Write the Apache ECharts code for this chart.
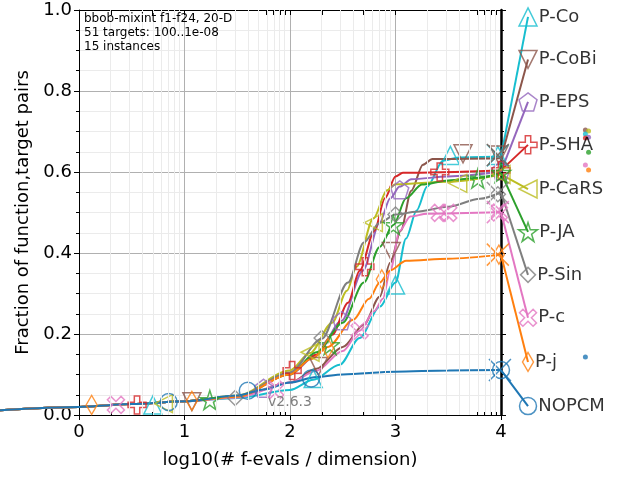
<!DOCTYPE html>
<html>
<head>
<meta charset="utf-8">
<script src="https://cdn.jsdelivr.net/npm/echarts@6/dist/echarts.min.js"></script>
<style>
  html, body { margin: 0; padding: 0; background: #fff; }
  #chart { width: 640px; height: 480px; }
</style>
</head>
<body>
<div id="chart"></div>
<script>
// ECDF curves, x = log10(#f-evals / dimension), y = fraction of (function,target) pairs
const names = ['P-Co', 'P-CoBi', 'P-EPS', 'P-SHA', 'P-CaRS', 'P-JA', 'P-Sin', 'P-c', 'P-j', 'NOPCM'];
const colors = ['#17becf', '#8c564b', '#9467bd', '#d62728', '#bcbd22', '#2ca02c', '#7f7f7f', '#e377c2', '#ff7f0e', '#1f77b4'];

const start = [[-0.75, 0.012], [0, 0.02], [0.5, 0.027], [1, 0.034]];

const curvePCo = [[1.5, 0.042], [2, 0.062], [2.22, 0.087], [2.47, 0.124], [2.66, 0.19], [2.85, 0.267], [3, 0.327], [3.1, 0.436], [3.2, 0.505], [3.3, 0.564], [3.45, 0.628], [3.6, 0.636], [4, 0.638]];
const curvePCoBi = [[1.5, 0.045], [2, 0.08], [2.25, 0.114], [2.5, 0.168], [2.7, 0.223], [2.85, 0.292], [2.95, 0.376], [3.05, 0.455], [3.15, 0.554], [3.26, 0.618], [3.35, 0.632], [4, 0.634]];
const curvePEPS = [[1.5, 0.046], [2, 0.1], [2.25, 0.148], [2.49, 0.233], [2.69, 0.356], [2.85, 0.475], [2.95, 0.535], [3.04, 0.564], [3.15, 0.582], [3.5, 0.589], [4, 0.601]];
const curvePSHA = [[1.5, 0.046], [2, 0.104], [2.25, 0.149], [2.4, 0.198], [2.55, 0.277], [2.66, 0.356], [2.8, 0.455], [2.9, 0.535], [3, 0.589], [3.07, 0.598], [4, 0.604]];
const curvePCaRS = [[1.5, 0.048], [2, 0.11], [2.19, 0.153], [2.4, 0.228], [2.54, 0.307], [2.63, 0.366], [2.79, 0.485], [2.92, 0.555], [3, 0.57], [3.5, 0.576], [4, 0.594]];
const curvePJA = [[1.5, 0.046], [2, 0.1], [2.25, 0.155], [2.5, 0.228], [2.7, 0.327], [2.85, 0.415], [2.98, 0.469], [3.1, 0.535], [3.25, 0.569], [3.5, 0.579], [3.8, 0.586], [4, 0.598]];
const curvePSin = [[1.5, 0.046], [2, 0.105], [2.3, 0.188], [2.55, 0.327], [2.7, 0.426], [2.85, 0.475], [3, 0.495], [3.2, 0.502], [3.5, 0.514], [3.8, 0.534], [4, 0.55]];
const curvePc = [[1.5, 0.043], [2, 0.08], [2.25, 0.109], [2.5, 0.158], [2.66, 0.208], [2.8, 0.257], [2.88, 0.287], [2.95, 0.357], [3.04, 0.455], [3.14, 0.49], [3.3, 0.497], [4, 0.501]];
const curvePj = [[1.5, 0.045], [2, 0.1], [2.2, 0.138], [2.36, 0.168], [2.6, 0.235], [2.75, 0.287], [2.85, 0.327], [2.95, 0.357], [3.1, 0.381], [3.5, 0.386], [4, 0.396]];
const curveNOPCM = [[1.5, 0.048], [1.75, 0.063], [2, 0.08], [2.25, 0.094], [2.5, 0.1], [3, 0.107], [3.5, 0.11], [4, 0.111]];

const curves = [curvePCo, curvePCoBi, curvePEPS, curvePSHA, curvePCaRS, curvePJA, curvePSin, curvePc, curvePj, curveNOPCM];

// marker positions along each curve
const markPCo = [[0.7, 0.025], [2.22, 0.09], [3.0, 0.321], [3.52, 0.641], [3.97, 0.641]];
const markPCoBi = [[1.07, 0.033], [2.27, 0.12], [2.96, 0.404], [3.64, 0.645], [3.98, 0.642]];
const markPEPS = [[1.75, 0.066], [2.49, 0.233], [3.04, 0.556], [4, 0.604]];
const markPSHA = [[0.55, 0.025], [2.02, 0.11], [2.71, 0.366], [3.42, 0.6], [4, 0.604]];
const markPCaRS = [[0.8, 0.028], [2.19, 0.155], [2.79, 0.475], [3.59, 0.572], [4, 0.594]];
const markPJA = [[1.24, 0.037], [2.38, 0.173], [2.98, 0.469], [3.78, 0.584], [4, 0.598]];
const markPSin = [[1.48, 0.042], [2.3, 0.19], [3.0, 0.495], [3.97, 0.545]];
const markPc = [[0.35, 0.025], [1.86, 0.062], [2.66, 0.208], [3.42, 0.499], [3.5, 0.499], [3.98, 0.5]];
const markPj = [[0.12, 0.025], [1.07, 0.035], [2.36, 0.165], [2.87, 0.335], [3.98, 0.396]];
const markNOPCM = [[0.85, 0.032], [1.6, 0.06], [2.2, 0.09], [4, 0.111]];

const marks = [markPCo, markPCoBi, markPEPS, markPSHA, markPCaRS, markPJA, markPSin, markPc, markPj, markNOPCM];

// end-of-budget crosses [x, y, series index]
const crosses = [[3.97, 0.641, 0], [3.97, 0.642, 1], [3.97, 0.548, 6], [3.97, 0.501, 7], [3.97, 0.396, 8], [3.99, 0.111, 9]];

// where the legend labels sit
const legendX = 4.256;
const legendY = [0.983, 0.878, 0.773, 0.667, 0.558, 0.452, 0.346, 0.24, 0.131, 0.022];

// small dots right of the labels [x, y, series index]
const dots = [[4.80, 0.704, 1], [4.83, 0.701, 4], [4.80, 0.694, 0], [4.83, 0.686, 2], [4.80, 0.684, 3], [4.83, 0.649, 5], [4.80, 0.617, 7], [4.83, 0.605, 8], [4.80, 0.143, 9]];

const xTicks = [0, 1, 2, 3, 4];
const minorX = [];
for (let d = 0; d < 4; d++) {
  for (let k = 2; k < 10; k++) minorX.push(d + Math.log10(k));
}

const symbols = [
  'triangle',
  'path://M0,0L10,0L5,9Z',
  'path://M5,0L10,3.8L8.1,10L1.9,10L0,3.8Z',
  'path://M3.5,0H6.5V3.5H10V6.5H6.5V10H3.5V6.5H0V3.5H3.5Z',
  'path://M0,5L9,0L9,10Z',
  'path://M5,0L6.2,3.6L10,3.6L6.9,5.9L8.1,9.5L5,7.3L1.9,9.5L3.1,5.9L0,3.6L3.8,3.6Z',
  'diamond',
  'path://M2,0L5,3L8,0L10,2L7,5L10,8L8,10L5,7L2,10L0,8L3,5L0,2Z',
  'diamond',
  'circle'
];
const sizes = [18, 18, 18, 18, 18, 19, 15, 17, [11, 19], 17];

// main plot box and a full-canvas overlay grid with the same scale,
// so curves can run outside the box like in the original
const W = 640, H = 480;
const box = { left: 79, right: 139, top: 10, bottom: 65 };
const pxX = (W - box.left - box.right) / 4;
const pxY = (H - box.top - box.bottom) / 1;
const ovX = { min: -box.left / pxX, max: (W - box.left) / pxX };
const ovY = { min: -box.bottom / pxY, max: 1 + box.top / pxY };

const font = 'DejaVu Sans';
const chart = echarts.init(document.getElementById('chart'));

const series = [];

// faint log grid lines in the main box
series.push({
  type: 'line',
  xAxisIndex: 0, yAxisIndex: 0,
  data: [],
  silent: true,
  markLine: {
    silent: true,
    symbol: 'none',
    label: { show: false },
    lineStyle: { color: '#ebebeb', width: 1, type: 'solid' },
    data: minorX.map(v => ({ xAxis: v }))
  }
});

const ov = { xAxisIndex: 3, yAxisIndex: 2 };

curves.forEach((c, i) => {
  series.push(Object.assign({
    name: names[i],
    type: 'line',
    data: start.concat(c),
    smooth: 0.3,
    smoothMonotone: 'x',
    symbol: 'none',
    z: 3,
    lineStyle: { color: colors[i], width: 2 }
  }, ov));
  const last = c[c.length - 1];
  series.push(Object.assign({
    type: 'line',
    data: [last, [legendX, legendY[i]]],
    symbol: 'none',
    z: 3,
    lineStyle: { color: colors[i], width: 2 }
  }, ov));
  const pts = marks[i].map(p => p.slice());
  pts.push({
    value: [legendX, legendY[i]],
    label: {
      show: true,
      position: 'right',
      distance: 1,
      formatter: names[i],
      color: '#000',
      fontFamily: font,
      fontSize: 18
    }
  });
  series.push(Object.assign({
    type: 'scatter',
    data: pts,
    symbol: symbols[i],
    symbolSize: sizes[i],
    z: 4,
    itemStyle: { color: 'rgba(255,255,255,0)', borderColor: colors[i], borderWidth: 1.5 }
  }, ov));
});

crosses.forEach(p => {
  series.push(Object.assign({
    type: 'scatter',
    data: [[p[0], p[1]]],
    symbol: 'path://M0,0L10,10M10,0L0,10',
    symbolSize: 22,
    z: 4,
    itemStyle: { color: 'rgba(255,255,255,0)', borderColor: colors[p[2]], borderWidth: 1.5 }
  }, ov));
});

dots.forEach(p => {
  series.push(Object.assign({
    type: 'scatter',
    data: [[p[0], p[1]]],
    symbol: 'circle',
    symbolSize: 5,
    z: 4,
    itemStyle: { color: colors[p[2]] }
  }, ov));
});

chart.setOption({
  animation: false,
  textStyle: { fontFamily: font },
  grid: [
    { left: box.left, right: box.right, top: box.top, bottom: box.bottom, show: false },
    { left: 0, right: 0, top: 0, bottom: 0, show: false }
  ],
  xAxis: [
    {
      type: 'value', min: 0, max: 4, interval: 1, gridIndex: 0,
      name: 'log10(# f-evals / dimension)',
      nameLocation: 'middle', nameGap: 36,
      nameTextStyle: { fontSize: 18, color: '#000', fontFamily: font },
      axisLine: { lineStyle: { color: '#000', width: 1 } },
      axisTick: { show: true, length: 5, lineStyle: { color: '#000' } },
      axisLabel: { fontSize: 18, color: '#000', margin: 8, fontFamily: font },
      splitLine: { show: true, lineStyle: { color: '#b0b0b0', width: 1 } }
    },
    {
      type: 'value', min: 0, max: 4, position: 'bottom', gridIndex: 0,
      axisLine: { show: false },
      axisLabel: { show: false },
      splitLine: { show: false },
      axisTick: { show: true, inside: true, length: 3, customValues: minorX, lineStyle: { color: '#000' } }
    },
    {
      type: 'value', min: 0, max: 4, interval: 1, position: 'top', gridIndex: 0,
      axisLine: { show: true, lineStyle: { color: '#000', width: 1 } },
      axisLabel: { show: false },
      splitLine: { show: false },
      axisTick: { show: true, inside: true, length: 5, customValues: xTicks.concat(minorX), lineStyle: { color: '#000' } }
    },
    {
      type: 'value', min: ovX.min, max: ovX.max, gridIndex: 1, show: false
    }
  ],
  yAxis: [
    {
      type: 'value', min: 0, max: 1, interval: 0.2, gridIndex: 0,
      name: 'Fraction of function,target pairs',
      nameLocation: 'middle', nameGap: 42,
      nameTextStyle: { fontSize: 18, color: '#000', fontFamily: font },
      axisLine: { show: true, onZero: false, lineStyle: { color: '#000', width: 1 } },
      axisTick: { show: true, length: 5, lineStyle: { color: '#000' } },
      minorTick: { show: true, splitNumber: 4, length: 3, lineStyle: { color: '#000' } },
      minorSplitLine: { show: true, lineStyle: { color: '#ebebeb', width: 1 } },
      axisLabel: { fontSize: 18, color: '#000', margin: 7, fontFamily: font, formatter: v => v.toFixed(1) },
      splitLine: { show: true, lineStyle: { color: '#b0b0b0', width: 1 } }
    },
    {
      type: 'value', min: 0, max: 1, interval: 0.2, position: 'right', gridIndex: 0,
      axisLine: { show: true, onZero: false, lineStyle: { color: '#000', width: 2.5 } },
      axisTick: { show: true, length: 5, lineStyle: { color: '#000' } },
      minorTick: { show: true, splitNumber: 4, length: 3, lineStyle: { color: '#000' } },
      axisLabel: { show: false },
      splitLine: { show: false }
    },
    {
      type: 'value', min: ovY.min, max: ovY.max, gridIndex: 1, show: false
    }
  ],
  graphic: [
    {
      type: 'text', left: 84, top: 12, z: 100,
      style: { text: 'bbob-mixint f1-f24, 20-D\n51 targets: 100..1e-08\n15 instances', font: '12px "DejaVu Sans"', lineHeight: 14, fill: '#000' }
    },
    {
      type: 'text', left: 268, top: 395, z: 100,
      style: { text: 'v2.6.3', font: '14px "DejaVu Sans"', fill: '#808080' }
    }
  ],
  series: series
});
</script>
</body>
</html>
